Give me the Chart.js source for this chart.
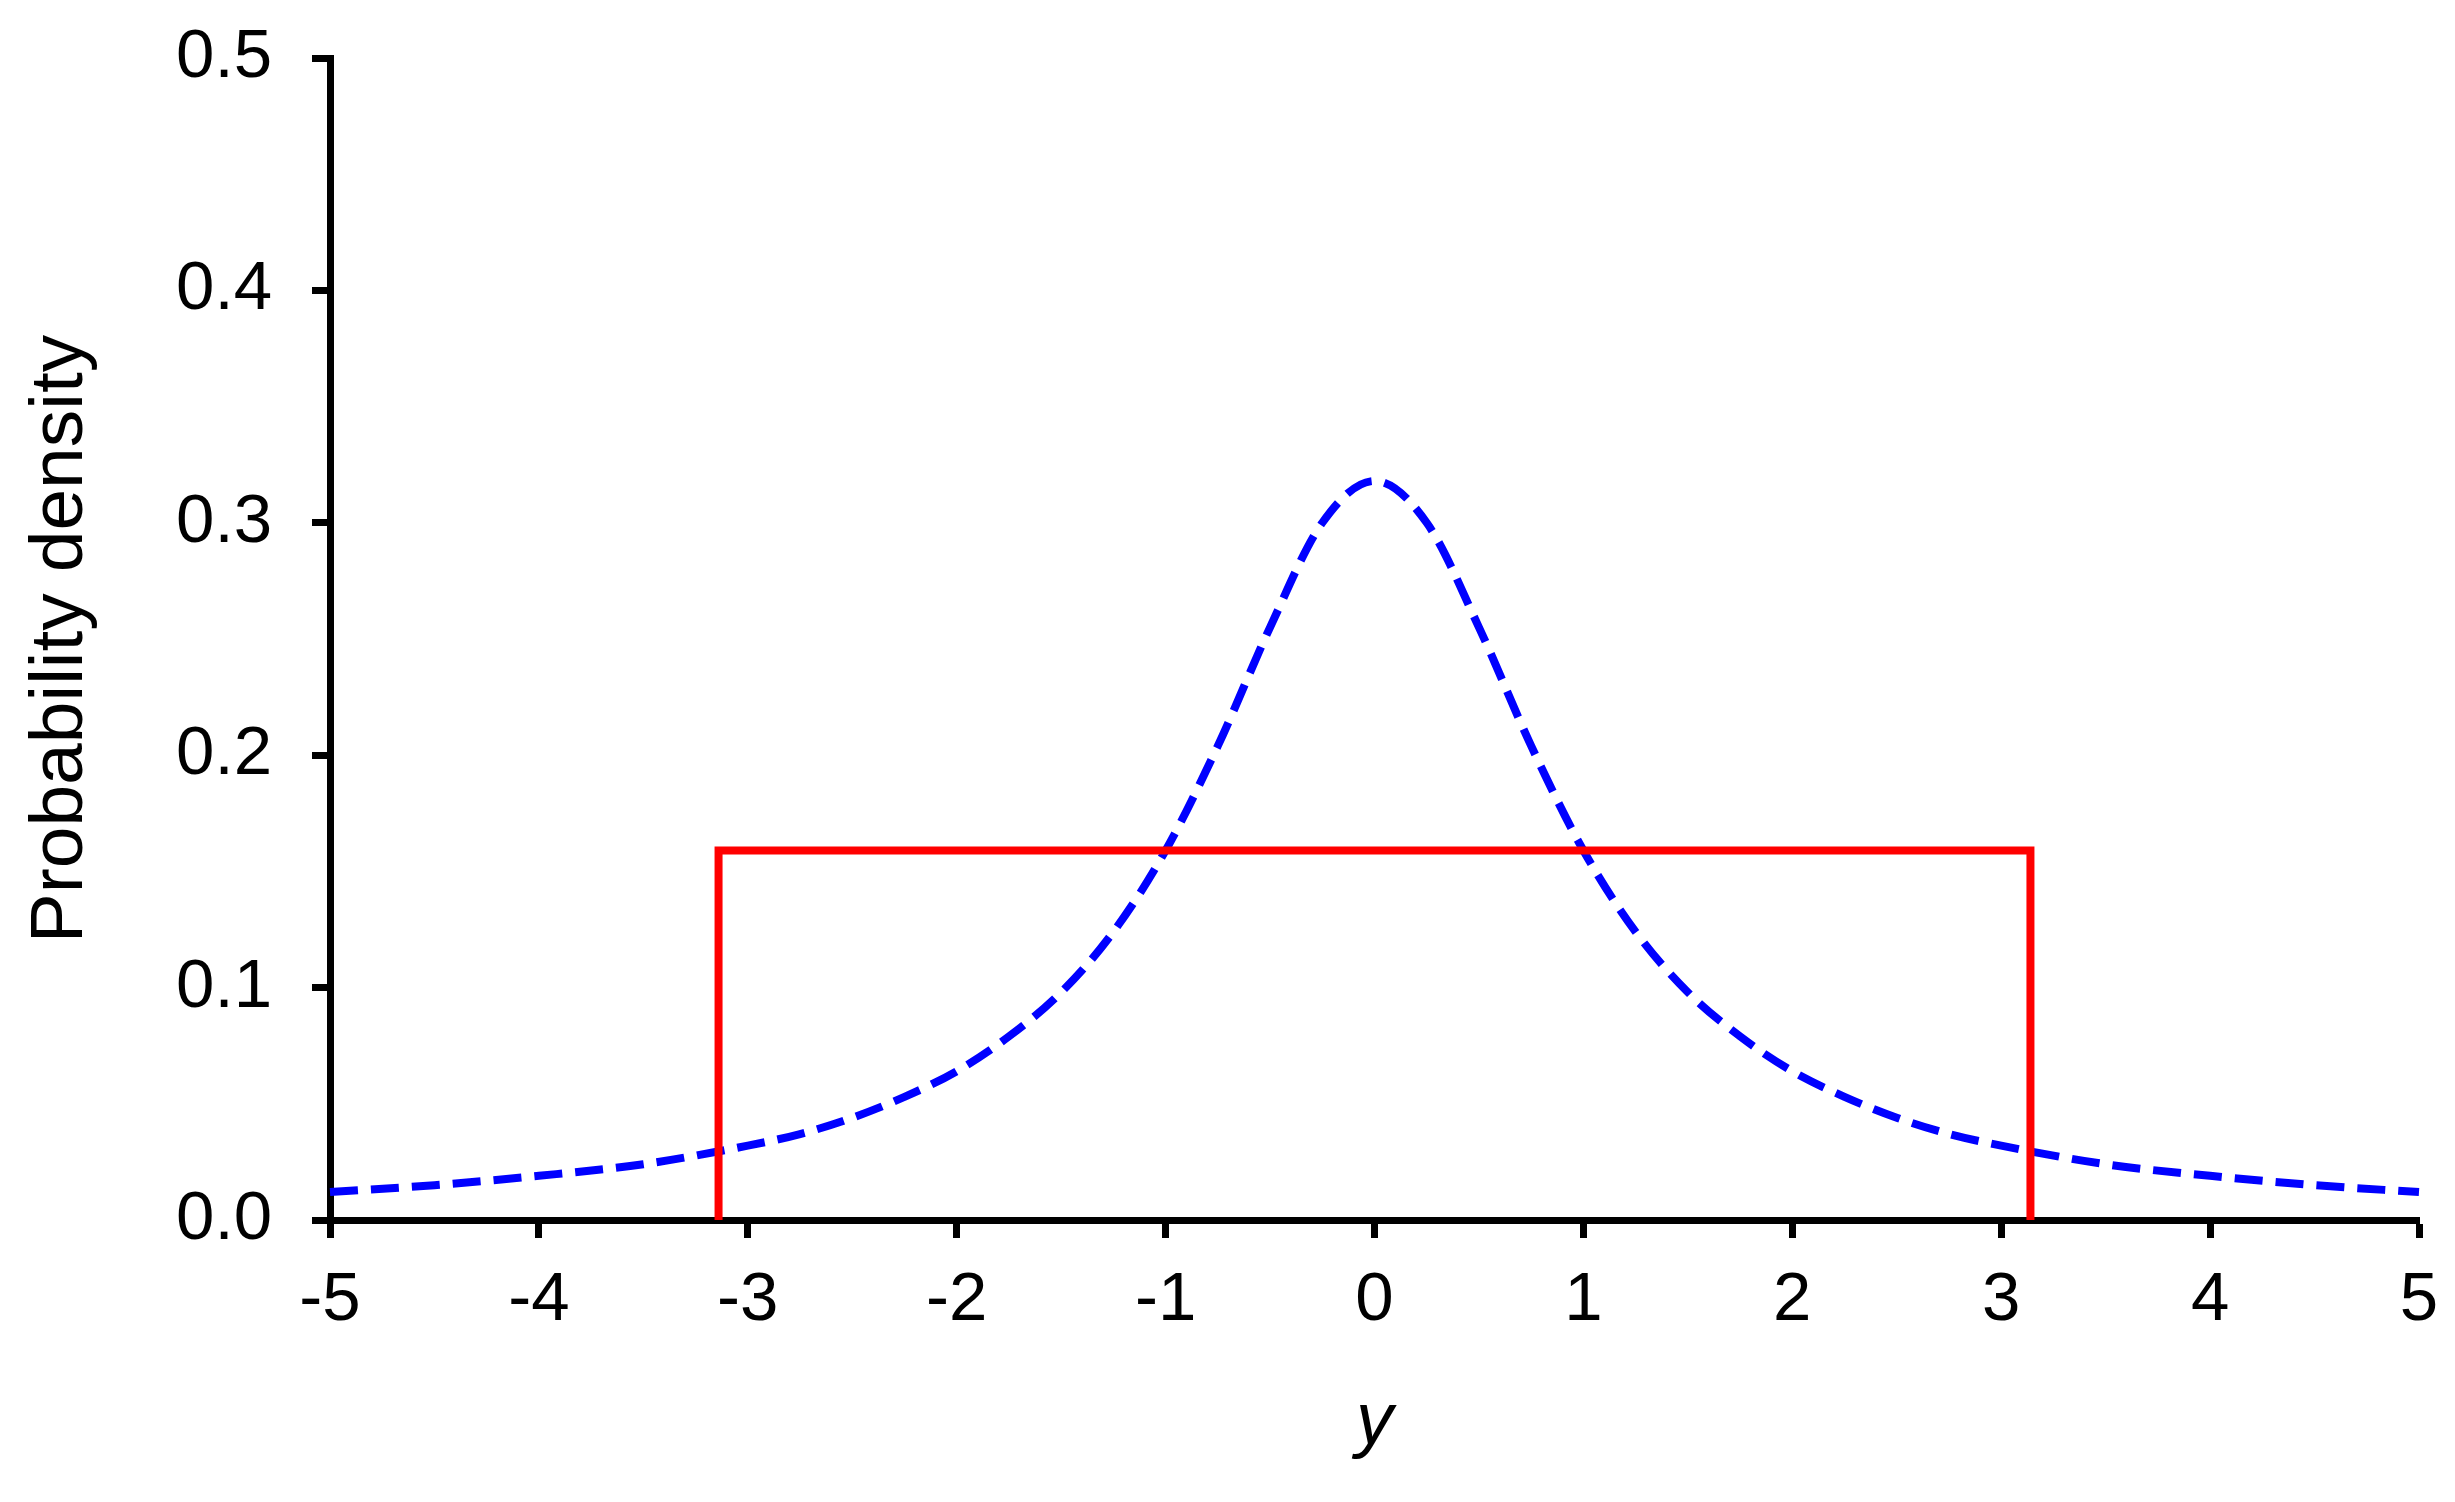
<!DOCTYPE html>
<html>
<head>
<meta charset="utf-8">
<script src="https://cdn.jsdelivr.net/npm/chart.js@4"></script>
<style>
  html, body { margin: 0; padding: 0; background: #fff; }
  #wrap { width: 2455px; height: 1502px; }
</style>
</head>
<body>
<div id="wrap"><canvas id="grafico"></canvas></div>
<script>
// valores
const cauchyX = [-5, -4.5, -4, -3.5, -3, -2.75, -2.5, -2.25, -2, -1.75, -1.5, -1.25, -1, -0.75, -0.5, -0.25,
  0, 0.25, 0.5, 0.75, 1, 1.25, 1.5, 1.75, 2, 2.25, 2.5, 2.75, 3, 3.5, 4, 4.5, 5];
const cauchyY = [0.012, 0.015, 0.019, 0.024, 0.032, 0.037, 0.044, 0.053, 0.064, 0.079, 0.098, 0.124, 0.159, 0.204, 0.255, 0.300,
  0.318, 0.300, 0.255, 0.204, 0.159, 0.124, 0.098, 0.079, 0.064, 0.053, 0.044, 0.037, 0.032, 0.024, 0.019, 0.015, 0.012];

const uniformeX = [-3.14, -3.14, 3.14, 3.14];
const uniformeY = [0, 0.159, 0.159, 0];

const ticksX = [-5, -4, -3, -2, -1, 0, 1, 2, 3, 4, 5];
const ticksY = [0, 0.1, 0.2, 0.3, 0.4, 0.5];

const fonte = '"Liberation Sans", Arial, sans-serif';

function pontos(xs, ys) {
  return xs.map((x, i) => ({ x: x, y: ys[i] }));
}

new Chart(document.getElementById('grafico'), {
  type: 'scatter',
  data: {
    datasets: [
      {
        data: pontos(uniformeX, uniformeY),
        showLine: true,
        borderColor: '#ff0000',
        borderWidth: 8,
        pointRadius: 0,
        tension: 0,
        borderJoinStyle: 'miter',
        clip: false
      },
      {
        data: pontos(cauchyX, cauchyY),
        showLine: true,
        borderColor: '#0000ff',
        borderWidth: 8,
        borderDash: [28, 13],
        pointRadius: 0,
        cubicInterpolationMode: 'monotone',
        clip: false
      }
    ]
  },
  options: {
    responsive: true,
    maintainAspectRatio: false,
    animation: false,
    layout: { padding: { top: 58, right: 36, left: 0, bottom: 0 } },
    plugins: {
      legend: { display: false },
      tooltip: { enabled: false }
    },
    scales: {
      x: {
        type: 'linear',
        min: -5,
        max: 5,
        afterBuildTicks: s => { s.ticks = ticksX.map(v => ({ value: v })); },
        afterFit: s => { s.height = 282; s.paddingLeft = 0; s.paddingRight = 0; },
        ticks: {
          color: '#000',
          font: { family: fonte, size: 69 },
          padding: 22,
          maxRotation: 0,
          callback: v => String(v)
        },
        grid: {
          drawOnChartArea: false,
          drawTicks: true,
          tickLength: 18,
          tickWidth: 7,
          tickColor: '#000'
        },
        border: { display: true, color: '#000', width: 7 },
        title: {
          display: true,
          text: 'y',
          color: '#000',
          font: { family: fonte, size: 74, style: 'italic' },
          padding: { top: 0, bottom: 34 }
        }
      },
      y: {
        type: 'linear',
        min: 0,
        max: 0.5,
        afterBuildTicks: s => { s.ticks = ticksY.map(v => ({ value: v })); },
        afterFit: s => { s.width = 330; s.paddingTop = 0; s.paddingBottom = 0; },
        ticks: {
          color: '#000',
          font: { family: fonte, size: 69 },
          padding: 40,
          callback: v => v.toFixed(1)
        },
        grid: {
          drawOnChartArea: false,
          drawTicks: true,
          tickLength: 18,
          tickWidth: 7,
          tickColor: '#000'
        },
        border: { display: true, color: '#000', width: 7 },
        title: {
          display: true,
          text: 'Probability density',
          color: '#000',
          font: { family: fonte, size: 75 },
          padding: { top: 16, bottom: 0 }
        }
      }
    }
  }
});
</script>
</body>
</html>
